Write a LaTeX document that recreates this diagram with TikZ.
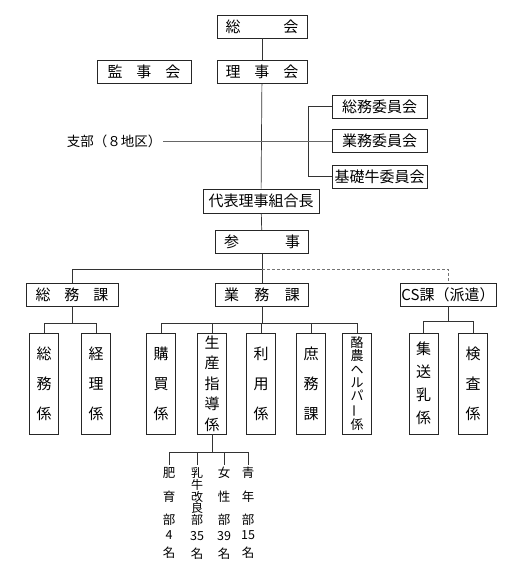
\documentclass[tikz,border=0pt]{standalone}
\usepackage{fontspec}
\setmainfont{Noto Sans CJK JP}
\newcommand{\spread}[2]{\hbox to #1{#2}}

\begin{document}
\begin{tikzpicture}[x=1pt, y=-1pt, font=\fontsize{15}{17}\selectfont,
  box/.style={draw=black!85, line width=0.8pt, minimum height=23pt, inner sep=0pt},
  vbox/.style={draw=black!85, line width=0.8pt, minimum width=29pt, minimum height=101pt,
    inner sep=0pt, align=center, font=\fontsize{15}{#1}\selectfont},
  subdept/.style={align=center, inner sep=2pt, font=\fontsize{12.5}{#1}\selectfont},
  conn/.style={draw=black!80, line width=0.7pt}]
\useasboundingbox (0,0) rectangle (515,577);

% top
\node[box, minimum width=90pt] (sokai) at (262,26.5) {\spread{73pt}{総\hfil 会}};
\node[box, minimum width=90pt] (rijikai) at (262,72) {\spread{73pt}{理\hfil 事\hfil 会}};
\node[box, minimum width=94pt] (kanjikai) at (144,72) {\spread{73pt}{監\hfil 事\hfil 会}};

% committees
\node[box, minimum width=95pt] (somui) at (379.5,106.5) {総務委員会};
\node[box, minimum width=95pt] (gyomui) at (379.5,141) {業務委員会};
\node[box, minimum width=95pt] (kisoi) at (379.5,176.5) {基礎牛委員会};
\node[inner sep=2pt, font=\fontsize{13.5}{15}\selectfont] (shibu) at (114,141) {支部（８地区）};

\node[box, minimum width=116pt, minimum height=24pt] (kumiaicho) at (261,201) {代表理事組合長};
\node[box, minimum width=93pt] (sanji) at (262,242) {\spread{76pt}{参\hfil 事}};

% sections
\node[box, minimum width=92pt] (somuka) at (72,294.5) {\spread{73pt}{総\hfil 務\hfil 課}};
\node[box, minimum width=93pt] (gyomuka) at (262,294.5) {\spread{76pt}{業\hfil 務\hfil 課}};
\node[box, minimum width=96pt] (cska) at (448,294.5) {CS課（派遣）};

% units
\node[vbox=30pt] (somukakari) at (44,383.5) {総\\務\\係};
\node[vbox=30pt] (keiri) at (96,383.5) {経\\理\\係};
\node[vbox=30pt] (kobai) at (161,383.5) {購\\買\\係};
\node[vbox=20.5pt] (seisan) at (212,383.5) {生\\産\\指\\導\\係};
\node[vbox=30pt] (riyo) at (261,383.5) {利\\用\\係};
\node[vbox=30pt] (shomu) at (311,383.5) {庶\\務\\課};
\node[vbox=13.3pt, font=\fontsize{13}{13.3}\selectfont] (rakuno) at (357,383.5)
  {酪\\農\\ヘ\\ル\\パ\\\rotatebox[origin=c]{90}{ー}\\係};
\node[vbox=23pt] (shusou) at (423.5,383.5) {集\\送\\乳\\係};
\node[vbox=30pt] (kensa) at (473,383.5) {検\\査\\係};

% sub departments
\node[subdept=23.5pt] (hiiku) at (169,496.5) {肥\\育\\部};
\node[subdept=11.8pt, font=\fontsize{12}{11.8}\selectfont] (nyugyu) at (197,496.5) {乳\\牛\\改\\良\\部};
\node[subdept=23.5pt] (josei) at (224,496.5) {女\\性\\部};
\node[subdept=23.5pt] (seinen) at (248,496.5) {青\\年\\部};
\node[subdept=18pt] (hiikun) at (169,545) {4\\名};
\node[subdept=18pt] (nyugyun) at (197,545) {35\\名};
\node[subdept=18pt] (josein) at (224,545) {39\\名};
\node[subdept=18pt] (seinenn) at (248,545) {15\\名};

% connectors
\draw[conn] (sokai) -- (rijikai);
\draw[conn] (rijikai) -- (kumiaicho);
\draw[conn] (somui.west) -- ++(-23,0) |- (kisoi.west);
\draw[conn, draw=black!60] (shibu.east) -- (gyomui.west);
\draw[conn] (kumiaicho) -- (sanji);
\coordinate (j1) at (262,269);
\draw[conn] (sanji) -- (j1) -| (somuka);
\draw[conn] (j1) -- (gyomuka);
\draw[conn, draw=black!55, dash pattern=on 3pt off 2pt] (j1) -| (cska);
\foreach \n in {somukakari,keiri}
  \draw[conn] (somuka.south) -- ++(0,17) -| (\n.north);
\foreach \n in {kobai,seisan,riyo,shomu,rakuno}
  \draw[conn] (gyomuka.south) -- ++(0,17) -| (\n.north);
\foreach \n in {shusou,kensa}
  \draw[conn] (cska.south) -- ++(0,15) -| (\n.north);
\foreach \n in {hiiku,nyugyu,josei,seinen}
  \draw[conn] (seisan.south) -- ++(0,18) -| (\n.north);
\end{tikzpicture}
\end{document}
